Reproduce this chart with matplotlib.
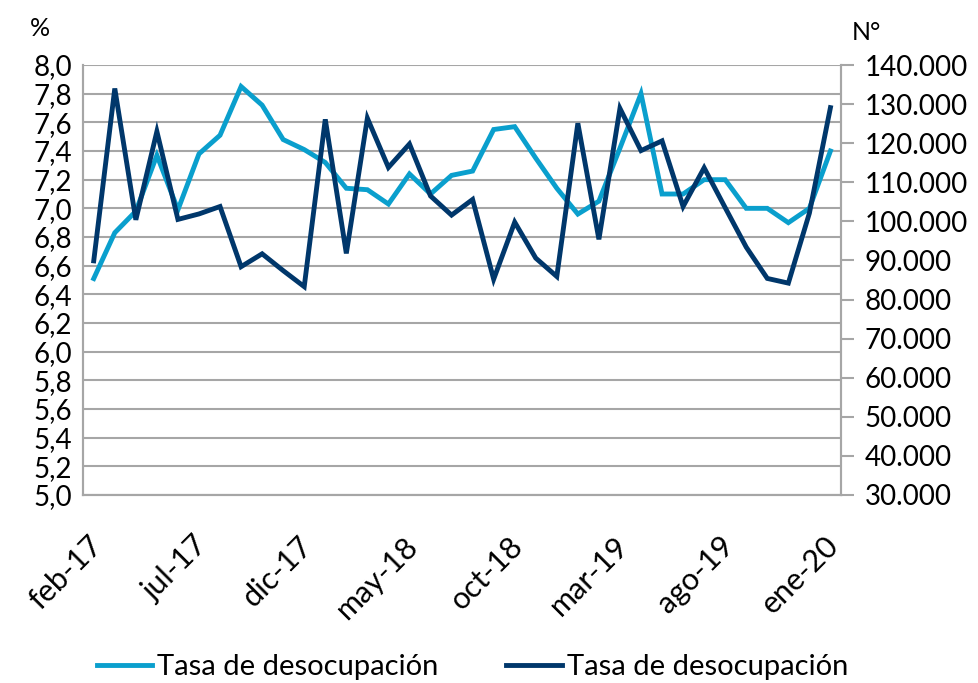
import matplotlib
matplotlib.use("Agg")
import matplotlib.pyplot as plt
from matplotlib.ticker import FuncFormatter, MultipleLocator
import matplotlib.transforms as mtransforms
import numpy as np

months = ["feb-17","mar-17","abr-17","may-17","jun-17","jul-17","ago-17","sep-17","oct-17","nov-17","dic-17",
          "ene-18","feb-18","mar-18","abr-18","may-18","jun-18","jul-18","ago-18","sep-18","oct-18","nov-18","dic-18",
          "ene-19","feb-19","mar-19","abr-19","may-19","jun-19","jul-19","ago-19","sep-19","oct-19","nov-19","dic-19",
          "ene-20"]

tasa = [6.51, 6.83, 6.98, 7.37, 6.99, 7.38, 7.51, 7.85, 7.72, 7.48, 7.41, 7.32,
        7.14, 7.13, 7.03, 7.24, 7.10, 7.23, 7.26, 7.55, 7.57, 7.35, 7.14, 6.96,
        7.05, 7.42, 7.80, 7.10, 7.10, 7.20, 7.20, 7.00, 7.00, 6.90, 7.00, 7.40]

desocupados = [89900, 134000, 100400, 123000, 100500, 101900, 103800, 88400, 91700, 87400, 83300, 126100,
               91800, 126400, 113800, 119800, 106500, 101600, 105600, 85200, 99800, 90600, 85900, 125100,
               95400, 128900, 118100, 120600, 103800, 113700, 103500, 93400, 85400, 84200, 102100, 129100]

tick_labels = ["feb-17", "jul-17", "dic-17", "may-18", "oct-18", "mar-19", "ago-19", "ene-20"]
series_names = ["Tasa de desocupación", "Tasa de desocupación"]

light = "#0A9FCD"
dark = "#00376B"
gray = "#A6A6A6"

plt.rcParams['font.family'] = ['Lato', 'DejaVu Sans']

fig = plt.figure(figsize=(9.79, 6.83), dpi=100)
ax = fig.add_axes([0.085, 0.2753, 0.774, 0.6295])
ax2 = ax.twinx()

x = np.arange(len(months))
l1, = ax.plot(x, tasa, color=light, lw=3.5, solid_joinstyle='miter', zorder=3)
l2, = ax2.plot(x, desocupados, color=dark, lw=3.5, solid_joinstyle='miter', zorder=3)

ax.set_xlim(-0.5, len(months) - 0.5)
ax.set_ylim(5.0, 8.0)
ax2.set_ylim(30000, 140000)

ax.yaxis.set_major_locator(MultipleLocator(0.2))
ax.yaxis.set_major_formatter(FuncFormatter(lambda v, p: f"{v:.1f}".replace(".", ",")))
ax2.yaxis.set_major_locator(MultipleLocator(10000))
ax2.yaxis.set_major_formatter(FuncFormatter(lambda v, p: f"{int(round(v)):,}".replace(",", ".")))

ax.grid(axis='y', color=gray, lw=1.5)
ax.set_axisbelow(True)

tick_pos = [months.index(t) for t in tick_labels]
ax.set_xticks(tick_pos)
ax.set_xticklabels(tick_labels, rotation=45, ha='right', rotation_mode='anchor', fontsize=22)
ax.tick_params(axis='x', length=0, pad=21)
offset = mtransforms.ScaledTranslation(-6 / 100, -7 / 100, fig.dpi_scale_trans)
for lbl in ax.get_xticklabels():
    lbl.set_transform(lbl.get_transform() + offset)
ax.tick_params(axis='y', length=0, labelsize=20, pad=8)
ax2.tick_params(axis='y', length=9, width=1.5, color=gray, labelsize=20, pad=8, direction='out')

for a in (ax, ax2):
    for s in a.spines.values():
        s.set_color(gray)
        s.set_linewidth(1.5)
ax.spines['top'].set_visible(False)
ax2.spines['top'].set_visible(False)

fig.text(40 / 979, 1 - 28 / 683, "%", fontsize=18, ha='center', va='center')
fig.text(866 / 979, 1 - 33 / 683, "N°", fontsize=18, ha='center', va='center')

fig.legend([l1, l2], series_names, loc='center', bbox_to_anchor=(0.4826, 1 - 667 / 683),
           ncol=2, frameon=False, fontsize=21, handlelength=1.9, handletextpad=0.17,
           columnspacing=2.33, borderaxespad=0, borderpad=0)

fig.savefig("out.png", dpi=100)
